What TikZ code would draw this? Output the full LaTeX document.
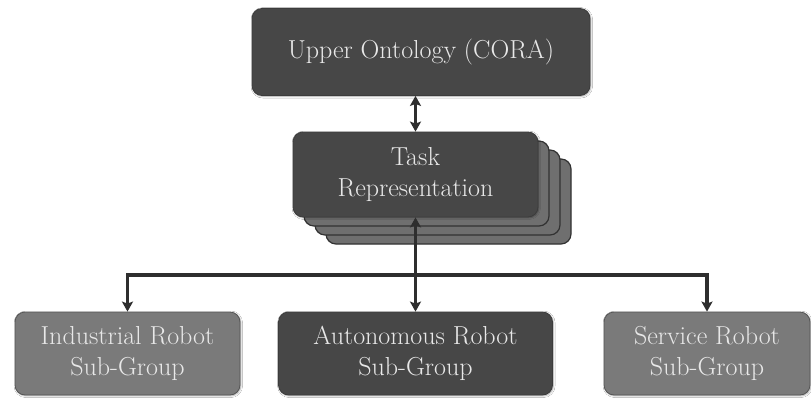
\documentclass[tikz,border=0pt]{standalone}
\usetikzlibrary{arrows.meta,shadows.blur}
\definecolor{darkbox}{HTML}{474747}
\definecolor{midbox}{HTML}{7A7A7A}
\definecolor{layerbox}{HTML}{6F6F6F}
\definecolor{boxtext}{HTML}{E8E8E8}
\definecolor{wire}{HTML}{2E2E2E}
\tikzset{
  box/.style={rounded corners=10pt, text=boxtext, align=center, inner sep=0pt,
    font=\fontsize{26}{31}\selectfont,
    blur shadow={shadow blur steps=6, shadow xshift=0.8pt, shadow yshift=-0.8pt, shadow opacity=35}},
  darkfill/.style={box, fill=darkbox, draw=darkbox!85!black, line width=0.8pt},
  midfill/.style={box, fill=midbox, draw=midbox!70!black, line width=0.8pt},
  layer/.style={rounded corners=10pt, fill=layerbox, draw=darkbox!70!black, line width=1.2pt},
  wireline/.style={draw=wire, line width=3.4pt},
  tip/.style={-{Stealth[length=10pt,width=11pt,inset=2pt]}},
  bothtips/.style={{Stealth[length=10pt,width=11pt,inset=2pt]}-{Stealth[length=10pt,width=11pt,inset=2pt]}},
}
\begin{document}
\begin{tikzpicture}[x=1pt,y=-1pt]
  \useasboundingbox[fill=white] (0,0) rectangle (811,399);

  % top level ontology
  \node[darkfill, minimum width=338pt, minimum height=87pt] (upper) at (421,52) {Upper Ontology (CORA)};

  % stacked task representation cards (back to front)
  \draw[layer] (326,159) rectangle (571,244);
  \draw[layer] (315,150) rectangle (560,235);
  \draw[layer] (304,141) rectangle (549,226);
  \node[darkfill, minimum width=245pt, minimum height=85pt] (task) at (415.5,174.5) {Task\\Representation};

  % sub-groups
  \node[midfill, minimum width=225pt, minimum height=83pt] (ind) at (127.5,353.5) {Industrial Robot\\Sub-Group};
  \node[darkfill, minimum width=274pt, minimum height=83pt] (aut) at (415.5,353.5) {Autonomous Robot\\Sub-Group};
  \node[midfill, minimum width=206pt, minimum height=83pt] (serv) at (707,353.5) {Service Robot\\Sub-Group};

  % connectors
  \coordinate (split) at (415.5,275);
  \draw[wireline, bothtips] (task.north) -- (task.north |- upper.south);
  \draw[wireline, bothtips] (task.south) -- (aut.north);
  \draw[wireline, tip] (split) -| (ind.north);
  \draw[wireline, tip] (split) -| (serv.north);
\end{tikzpicture}
\end{document}
